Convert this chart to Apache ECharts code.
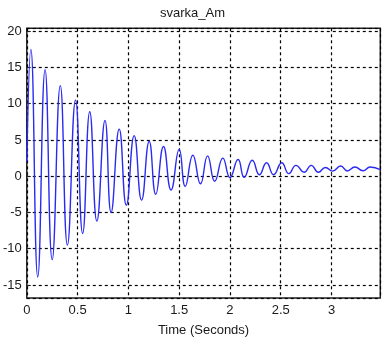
<!DOCTYPE html>
<html>
<head>
<meta charset="utf-8">
<script src="https://cdn.jsdelivr.net/npm/echarts@6/dist/echarts.min.js"></script>
<style>
  html, body { margin: 0; padding: 0; background: #fff; }
  #chart { width: 385px; height: 342px; }
</style>
</head>
<body>
<div id="chart"></div>
<script>
// Extrema of the signal (time in seconds, value)
const times = [0, 0.04, 0.108, 0.18, 0.25, 0.33, 0.40, 0.48, 0.55, 0.62, 0.69, 0.77, 0.83, 0.91, 0.98,
  1.057, 1.13, 1.205, 1.27, 1.346, 1.42, 1.50, 1.56, 1.635, 1.71, 1.78, 1.85, 1.93, 2.0,
  2.08, 2.14, 2.22, 2.29, 2.36, 2.43, 2.51, 2.58, 2.65, 2.73, 2.80, 2.87, 2.94, 3.01,
  3.09, 3.155, 3.23, 3.31, 3.38, 3.48];
const values = [2, 17.5, -13.9, 14.7, -11.5, 12.5, -9.5, 10.5, -7.9, 8.9, -6.2, 7.7, -5.0, 6.5, -4.0,
  5.6, -3.3, 4.8, -2.5, 4.1, -1.9, 3.7, -1.4, 2.9, -1.05, 2.8, -0.7, 2.5, -0.2,
  2.3, -0.15, 2.2, 0.2, 1.85, 0.2, 1.85, 0.35, 1.5, 0.55, 1.5, 0.55, 1.2, 0.7,
  1.4, 0.72, 1.27, 0.75, 1.27, 0.9];
const xRange = [0, 3.48];
const yRange = [-16.8, 20.4];
const titleText = 'svarka_Am';
const xName = 'Time (Seconds)';

const chart = echarts.init(document.getElementById('chart'), null, { renderer: 'canvas' });
const fontFamily = 'Arial, "Liberation Sans", sans-serif';
const textColor = '#1a1a1a';
chart.setOption({
  animation: false,
  backgroundColor: '#ffffff',
  title: {
    text: titleText, left: 'center', top: 2,
    textStyle: { fontSize: 13, fontWeight: 'normal', color: textColor, fontFamily }
  },
  grid: {
    left: 26.7, right: 4.7, top: 28.3, bottom: 37.7,
    show: true, borderColor: '#222', borderWidth: 1.5, backgroundColor: '#fff'
  },
  xAxis: {
    type: 'value', min: xRange[0], max: xRange[1], splitNumber: 7,
    name: xName, nameLocation: 'middle', nameGap: 26,
    nameTextStyle: { fontSize: 13, color: textColor, fontFamily },
    axisLine: { show: false },
    axisTick: { show: true, inside: true, length: 4, lineStyle: { color: '#222' } },
    axisLabel: { showMaxLabel: false, fontSize: 13, color: textColor, fontFamily, margin: 6 },
    splitLine: { show: true, lineStyle: { color: '#000', type: [3, 3], width: 1.2 } }
  },
  yAxis: {
    type: 'value', min: yRange[0], max: yRange[1], splitNumber: 7,
    axisLine: { show: false },
    axisTick: { show: true, inside: true, length: 4, lineStyle: { color: '#222' } },
    axisLabel: { showMinLabel: false, showMaxLabel: false, fontSize: 13, color: textColor, fontFamily, margin: 5,
      formatter: v => (Math.abs(v % 5) < 1e-9 ? String(v) : '') },
    splitLine: { show: true, lineStyle: { color: '#000', type: [3, 3], width: 1.2 } }
  },
  series: [{
    type: 'line',
    data: times.map((t, i) => [t, values[i]]),
    smooth: 0.5,
    showSymbol: false,
    lineStyle: { color: '#2a2af2', width: 1.4 },
    z: 3
  }]
});
</script>
</body>
</html>
